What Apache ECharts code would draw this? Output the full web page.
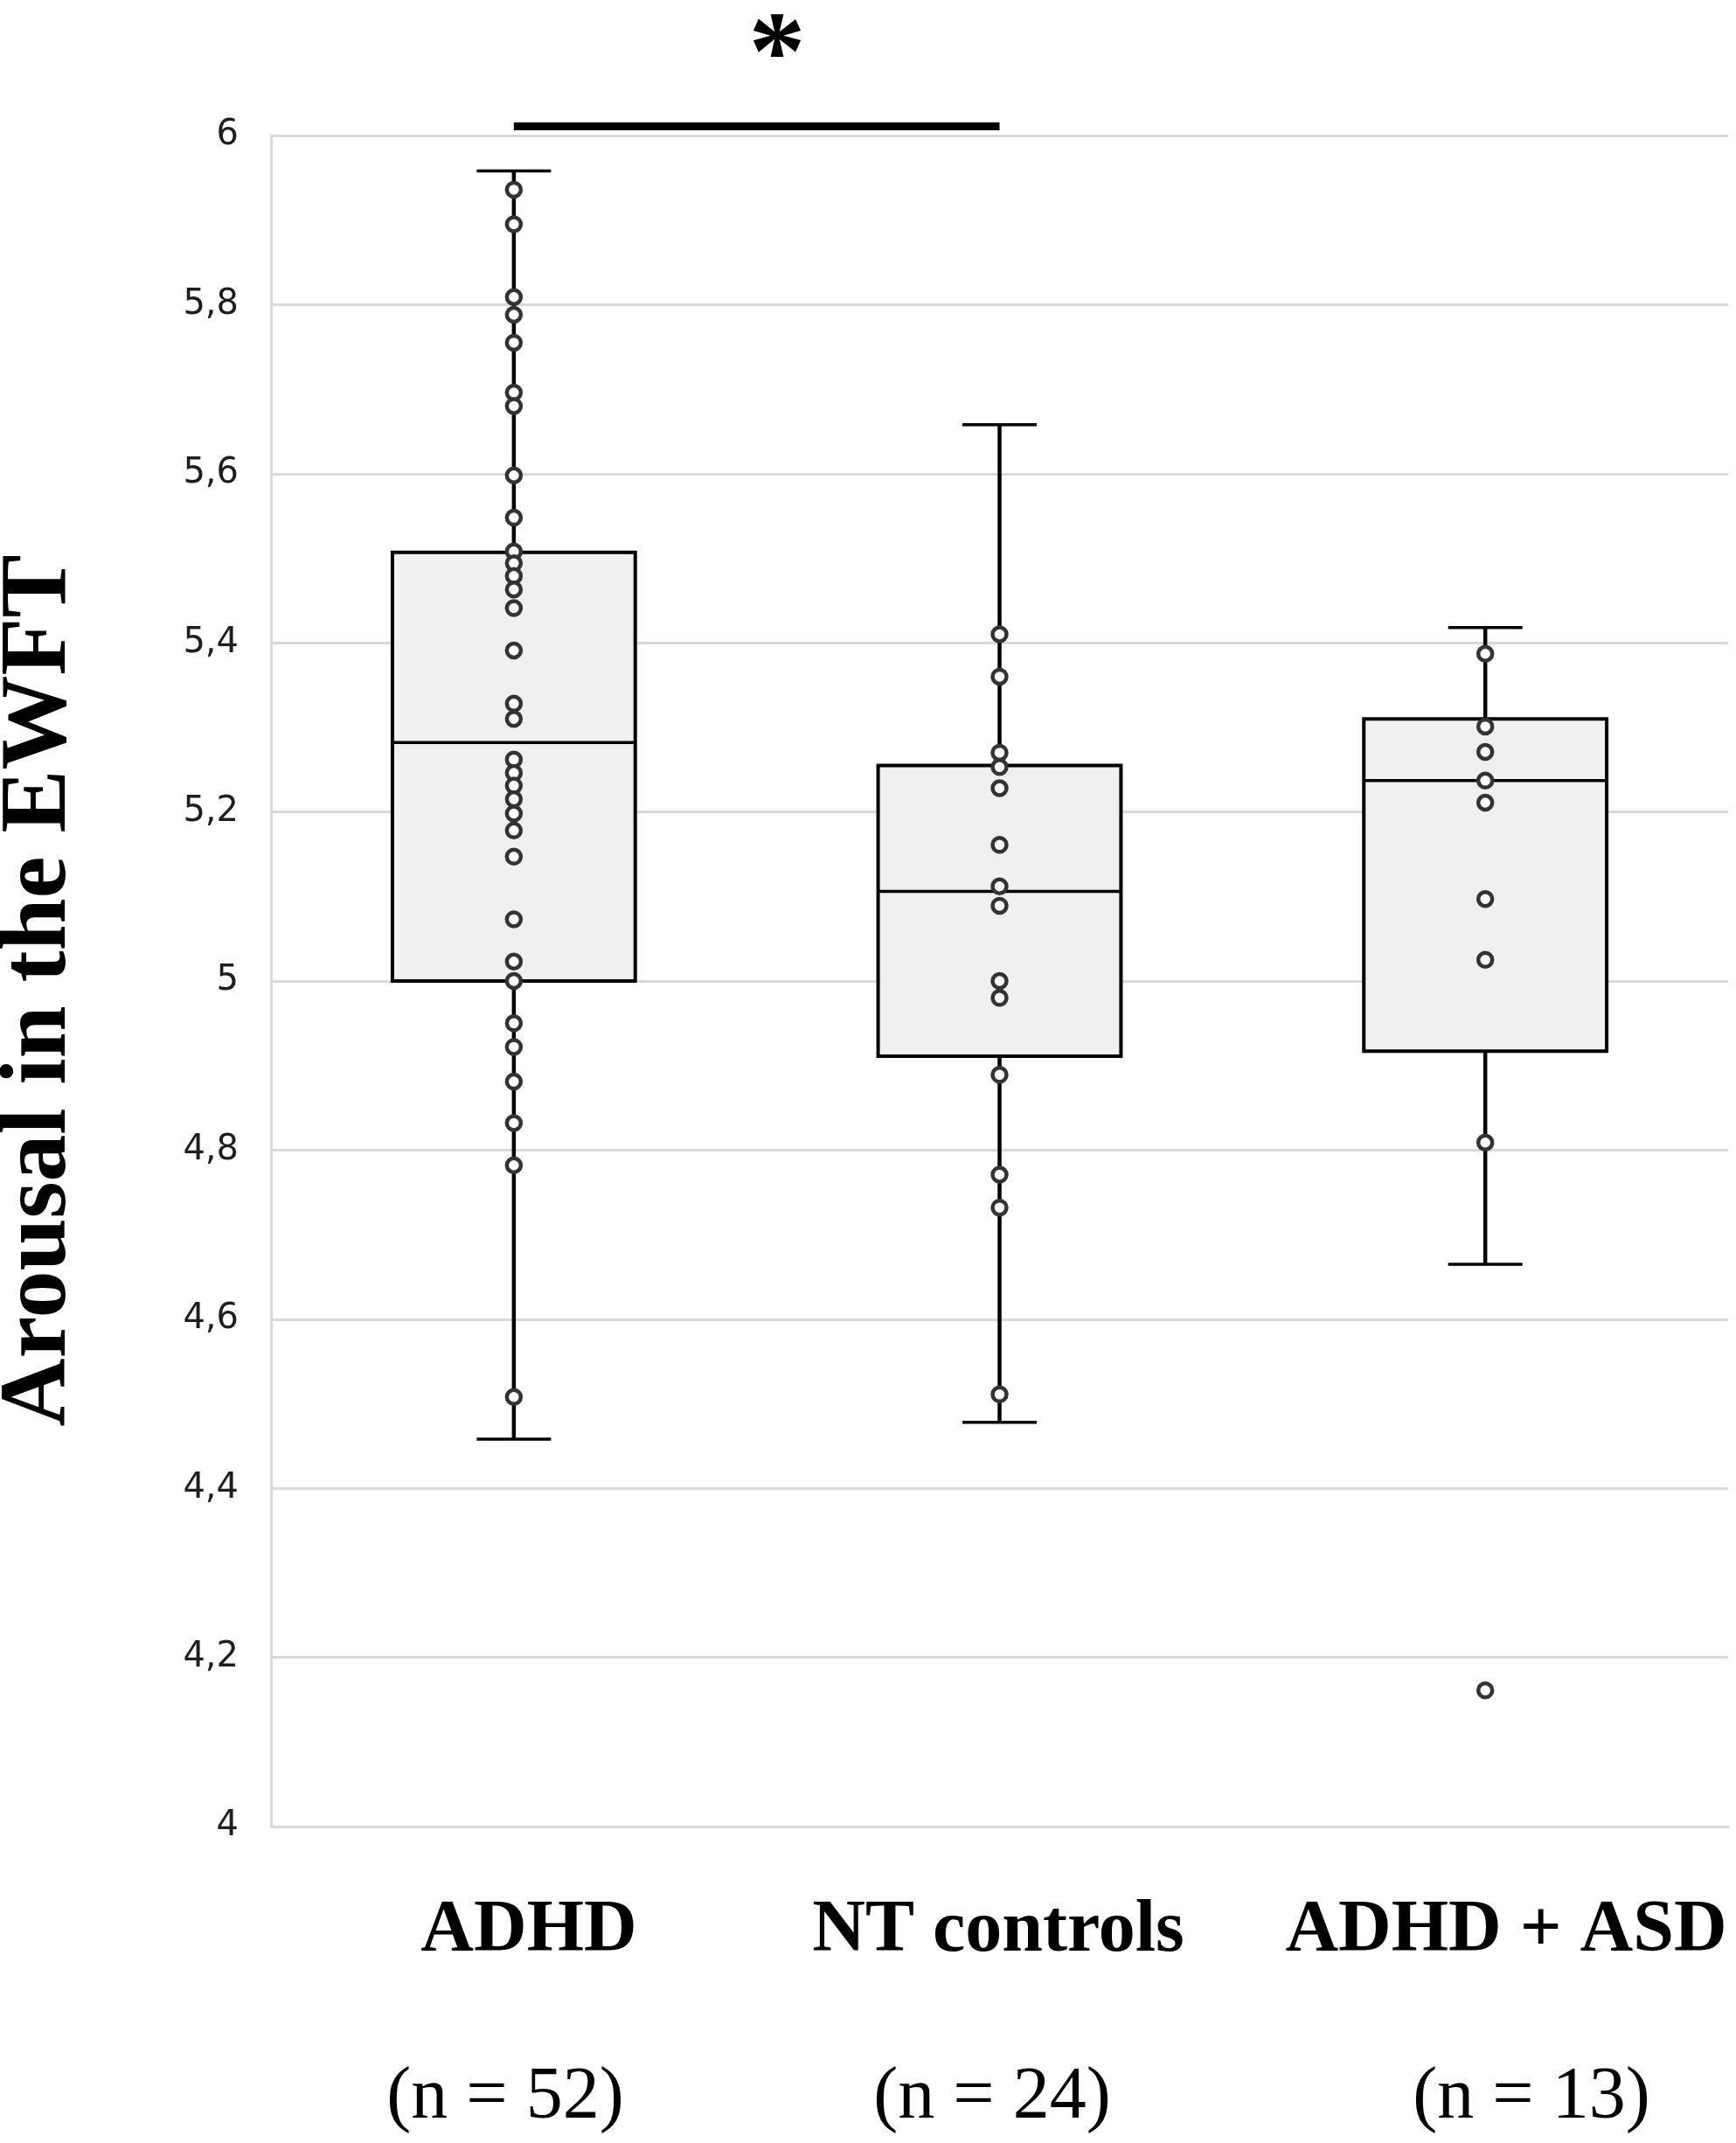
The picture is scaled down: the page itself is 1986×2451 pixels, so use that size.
<!DOCTYPE html>
<html>
<head>
<meta charset="utf-8">
<script src="https://cdn.jsdelivr.net/npm/echarts@6/dist/echarts.min.js"></script>
<style>
html,body{margin:0;padding:0;background:#fff;}
#chart{width:1986px;height:2451px;}
</style>
</head>
<body>
<div id="chart"></div>
<script>
// ---- data ----
const categories = ['ADHD', 'NT controls', 'ADHD + ASD'];
const nLabels = ['(n = 52)', '(n = 24)', '(n = 13)'];
const yTitle = 'Arousal in the EWFT';

// box statistics per group: [lower whisker, Q1, median, Q3, upper whisker]
const adhdBox = [4.458, 5.000, 5.282, 5.507, 5.958];
const ntBox   = [4.478, 4.911, 5.106, 5.255, 5.658];
const asdBox  = [4.665, 4.917, 5.237, 5.310, 5.418];

// individual points
const adhdPoints = [5.936, 5.895, 5.809, 5.788, 5.755, 5.696, 5.680, 5.598, 5.548,
  5.508, 5.494, 5.479, 5.463, 5.441, 5.391, 5.328, 5.310,
  5.262, 5.246, 5.231, 5.215, 5.198, 5.178, 5.147, 5.073, 5.023, 5.000,
  4.950, 4.922, 4.881, 4.832, 4.782, 4.508];
const ntPoints = [5.410, 5.360, 5.270, 5.253, 5.228, 5.161, 5.112, 5.089,
  5.000, 4.980, 4.889, 4.771, 4.732, 4.511];
const asdPoints = [5.387, 5.301, 5.271, 5.237, 5.211, 5.097, 5.025, 4.809, 4.161];

// ---- build ----
const boxes = [adhdBox, ntBox, asdBox];
const pointGroups = [adhdPoints, ntPoints, asdPoints];
const boxData = boxes.map((b, i) => [i].concat(b));
const scatterData = [];
pointGroups.forEach((g, i) => g.forEach(v => scatterData.push([i, v])));

const chart = echarts.init(document.getElementById('chart'), null, {renderer: 'canvas'});

const option = {
  backgroundColor: '#ffffff',
  animation: false,
  grid: {left: 310, right: 9, top: 155, bottom: 362, containLabel: false, outerBoundsMode: 'none'},
  xAxis: {
    type: 'category',
    data: categories,
    boundaryGap: true,
    axisLine: {show: true, lineStyle: {color: '#d9d9d9', width: 3}},
    axisTick: {show: false},
    axisLabel: {show: false},
    splitLine: {show: false}
  },
  yAxis: {
    type: 'value',
    min: 4, max: 6, interval: 0.2,
    axisLine: {show: true, lineStyle: {color: '#d9d9d9', width: 3}},
    axisTick: {show: false},
    splitLine: {show: true, lineStyle: {color: '#d9d9d9', width: 3}},
    axisLabel: {
      margin: 37,
      fontSize: 40,
      fontFamily: 'DejaVu Sans',
      color: '#1e1e1e',
      formatter: v => String(+v.toFixed(1)).replace('.', ',')
    }
  },
  series: [
    {
      type: 'custom',
      z: 3,
      data: boxData,
      encode: {x: 0, y: [1, 2, 3, 4, 5]},
      renderItem: function (params, api) {
        const idx = api.value(0);
        const lo = api.value(1), q1 = api.value(2), med = api.value(3), q3 = api.value(4), hi = api.value(5);
        const band = api.size([1, 0])[0];
        const cx = api.coord([idx, med])[0];
        const Y = v => api.coord([idx, v])[1];
        const bw = band * 0.5;
        const cw = band * 0.153;
        const blk = '#000';
        return {
          type: 'group',
          children: [
            {type: 'line', shape: {x1: cx, y1: Y(hi), x2: cx, y2: Y(q3)}, style: {stroke: blk, lineWidth: 4.5}},
            {type: 'line', shape: {x1: cx, y1: Y(lo), x2: cx, y2: Y(q1)}, style: {stroke: blk, lineWidth: 4.5}},
            {type: 'line', shape: {x1: cx - cw / 2, y1: Y(hi), x2: cx + cw / 2, y2: Y(hi)}, style: {stroke: blk, lineWidth: 3.5}},
            {type: 'line', shape: {x1: cx - cw / 2, y1: Y(lo), x2: cx + cw / 2, y2: Y(lo)}, style: {stroke: blk, lineWidth: 3.5}},
            {type: 'rect', shape: {x: cx - bw / 2, y: Y(q3), width: bw, height: Y(q1) - Y(q3)},
              style: {fill: '#f0f0f0', stroke: blk, lineWidth: 4}},
            {type: 'line', shape: {x1: cx - bw / 2, y1: Y(med), x2: cx + bw / 2, y2: Y(med)}, style: {stroke: blk, lineWidth: 3.5}}
          ]
        };
      }
    },
    {
      type: 'scatter',
      z: 5,
      data: scatterData,
      symbol: 'circle',
      symbolSize: 16,
      itemStyle: {color: '#ffffff', borderColor: '#333333', borderWidth: 4.5, opacity: 1}
    }
  ]
};
chart.setOption(option);

// annotations: significance bar between ADHD and NT, labels
const xA = chart.convertToPixel({xAxisIndex: 0}, 0);
const xB = chart.convertToPixel({xAxisIndex: 0}, 1);
const labelX = [605, 1142, 1723];
const nX = [578, 1135, 1752];
const graphics = [
  {type: 'line', shape: {x1: xA, y1: 144.5, x2: xB, y2: 144.5}, style: {stroke: '#000', lineWidth: 9}},
  {type: 'text', x: 889, y: 68, style: {text: '*', font: 'bold 130px "Liberation Serif"', fill: '#000', align: 'center', verticalAlign: 'middle'}},
  {type: 'text', x: 46, y: 1133, rotation: Math.PI / 2,
    style: {text: yTitle, font: 'bold 108px "Liberation Serif"', fill: '#000', align: 'center', verticalAlign: 'middle'}}
];
categories.forEach((c, i) => {
  graphics.push({type: 'text', x: labelX[i], y: 2209,
    style: {text: c, font: 'bold 84px "Liberation Serif"', fill: '#000', align: 'center', verticalAlign: 'middle'}});
  graphics.push({type: 'text', x: nX[i], y: 2400,
    style: {text: nLabels[i], font: '84px "Liberation Serif"', fill: '#000', align: 'center', verticalAlign: 'middle'}});
});
chart.setOption({graphic: graphics});
</script>
</body>
</html>
